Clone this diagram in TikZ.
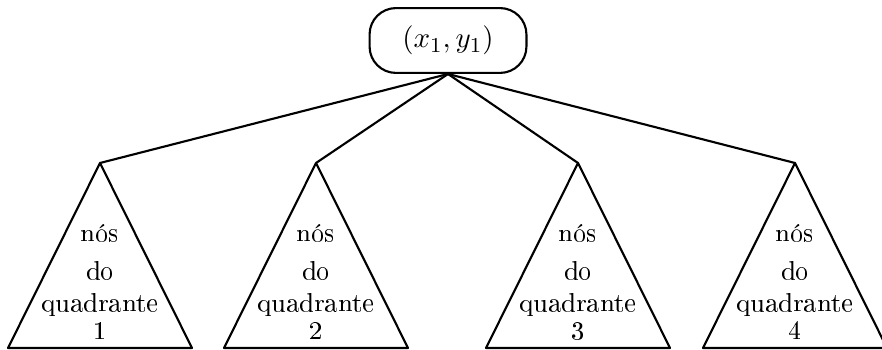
\documentclass[tikz,border=0pt]{standalone}
\usepackage[T1]{fontenc}
\usepackage{tikz}

\begin{document}
\begin{tikzpicture}[
x=0.1326mm, y=-0.1326mm,
root/.style={draw, thick, rounded corners=3.5mm, minimum width=20.8mm, minimum height=8.6mm, font=\fontsize{11}{13}\selectfont},
tri/.style={draw, thick, line join=round},
quad/.style={align=center, inner sep=0pt},
edge/.style={thick}
]
\useasboundingbox (0,0) rectangle (882,350);
\node[root] (r) at (448,40.5) {$(x_1,y_1)$};
\foreach \i/\x in {1/100,2/316,3/578,4/795} {
  \coordinate (t\i) at (\x,163);
  \draw[tri] (t\i) -- ++(-92,185) -- ++(184,0) -- cycle;
  \node[quad] (q\i) at (\x,282) {nós\\[0.8mm]do\\quadrante\\[-0.5mm]\i};
  \draw[edge] (r.south) -- (t\i);
}
\end{tikzpicture}
\end{document}
